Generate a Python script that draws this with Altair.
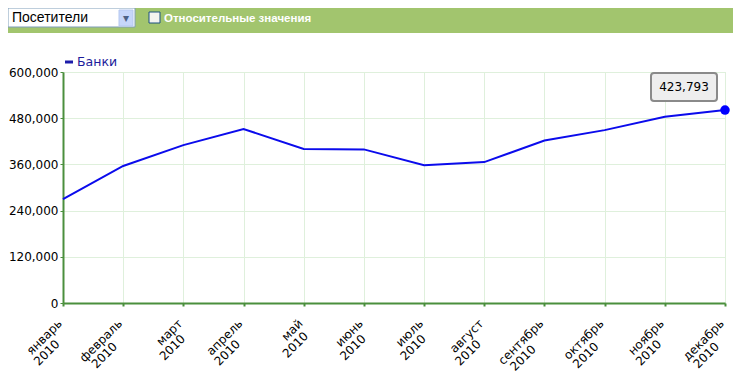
import altair as alt
import pandas as pd

# ---- data ----
months = ["январь", "февраль", "март", "апрель", "май", "июнь",
          "июль", "август", "сентябрь", "октябрь", "ноябрь", "декабрь"]
visitors = [270000, 356000, 410000, 452000, 400000, 399000,
            358000, 366000, 422000, 449000, 484000, 501000]
year_label = "2010"
series_name = "Банки"
y_ticks = [0, 120000, 240000, 360000, 480000, 600000]
tooltip_value = "423,793"
select_label = "Посетители"
checkbox_label = "Относительные значения"

df = pd.DataFrame({"idx": list(range(len(months))), "month": months, "value": visitors})
one = pd.DataFrame({"a": [0]})

W, H = 662, 231
YMAX = 600000
GREEN = "#4b8f3d"
BLUE = "#0b0bec"
GRID = "#dff0dc"

months_js = "[" + ",".join("'" + m + "'" for m in months) + "]"

x_scale = alt.Scale(domain=[0, len(months) - 1], nice=False, zero=False)
y_scale = alt.Scale(domain=[0, YMAX], nice=False)

x_enc = alt.X("idx:Q", scale=x_scale,
              axis=alt.Axis(title=None, values=list(range(len(months))),
                            labelExpr=months_js + "[datum.value]",
                            labelAngle=315, labelAlign="right", labelBaseline="middle",
                            labelFont="DejaVu Sans", labelFontSize=12,
                            labelColor="#000000", labelOffset=-3.5,
                            labelOverlap=False, labelFlush=False, labelBound=False,
                            domainColor=GREEN, domainWidth=2,
                            tickColor=GREEN, tickWidth=2, tickSize=3,
                            gridColor=GRID, labelPadding=15))
y_enc = alt.Y("value:Q", scale=y_scale,
              axis=alt.Axis(title=None, values=y_ticks, format=",d",
                            labelFont="DejaVu Sans", labelFontSize=12,
                            labelColor="#000000",
                            domainColor=GREEN, domainWidth=2,
                            tickColor=GREEN, tickWidth=1, tickSize=3,
                            gridColor=GRID, labelPadding=2))

line = alt.Chart(df).mark_line(color=BLUE, strokeWidth=2).encode(x=x_enc, y=y_enc)
last_pt = alt.Chart(df).transform_filter(
    alt.datum.idx == len(months) - 1
).mark_circle(size=90, color="#0000ff", opacity=1).encode(x=x_enc, y=y_enc)

# second line of the x tick labels ("2010"), centred under each month name
px_x = W / (len(months) - 1)
px_y = H / YMAX
years = alt.Chart(df).transform_calculate(
    w="length(datum.month) * 7.4",
    yx="datum.idx + (-0.5 - 0.354 * datum.w) / %f" % px_x,
    yy="-(34 + 0.354 * datum.w) / %f" % px_y,
).mark_text(text=year_label, angle=315, align="center", baseline="middle",
            font="DejaVu Sans", fontSize=12, color="black").encode(
    x=alt.X("yx:Q", scale=x_scale), y=alt.Y("yy:Q", scale=y_scale))

# header bar (UI decoration)
bar = alt.Chart(one).mark_rect(color="#a2c56e").encode(
    x=alt.value(-55), x2=alt.value(680), y=alt.value(-64), y2=alt.value(-39))
dropdown = alt.Chart(one).mark_rect(fill="white", stroke="#7f9db9", strokeWidth=1).encode(
    x=alt.value(-55), x2=alt.value(72), y=alt.value(-64), y2=alt.value(-45))
dd_btn = alt.Chart(one).mark_rect(fill="#c6d6fa", stroke="#b5c8f0", strokeWidth=1).encode(
    x=alt.value(56), x2=alt.value(70), y=alt.value(-62), y2=alt.value(-46))
dd_arrow = alt.Chart(one).mark_text(text="▾", color="#4d6185", fontSize=12,
                                    font="DejaVu Sans", align="center", baseline="middle").encode(
    x=alt.value(63), y=alt.value(-54))
dd_text = alt.Chart(one).mark_text(text=select_label, color="black", fontSize=14,
                                   font="Liberation Sans", align="left", baseline="middle").encode(
    x=alt.value(-51), y=alt.value(-54))
chk = alt.Chart(one).mark_rect(fill="#f4f4f0", stroke="#1c5180", strokeWidth=1).encode(
    x=alt.value(86), x2=alt.value(97), y=alt.value(-60), y2=alt.value(-49))
chk_text = alt.Chart(one).mark_text(text=checkbox_label, color="white", fontSize=11.5,
                                    fontWeight="bold", font="Liberation Sans",
                                    align="left", baseline="middle").encode(
    x=alt.value(101), y=alt.value(-53))

# legend
leg_line = alt.Chart(one).mark_rule(color="#1c1caa", strokeWidth=3).encode(
    x=alt.value(2), x2=alt.value(10), y=alt.value(-10))
leg_text = alt.Chart(one).mark_text(text=series_name, color="#1c1c9c", fontSize=12.5,
                                    font="DejaVu Sans", align="left", baseline="middle").encode(
    x=alt.value(14), y=alt.value(-10))

# tooltip box
tip_box = alt.Chart(one).mark_rect(fill="#eeeeee", stroke="#8a8a8a", strokeWidth=2,
                                   cornerRadius=3).encode(
    x=alt.value(588), x2=alt.value(654), y=alt.value(1), y2=alt.value(29))
tip_text = alt.Chart(one).mark_text(text=tooltip_value, color="black", fontSize=12,
                                    font="DejaVu Sans", align="center", baseline="middle").encode(
    x=alt.value(621), y=alt.value(15))

chart = alt.layer(
    bar, dropdown, dd_btn, dd_arrow, dd_text, chk, chk_text,
    line, last_pt, years, leg_line, leg_text, tip_box, tip_text
).properties(
    width=W, height=H,
    padding={"left": 55, "top": 64, "right": 8, "bottom": 70},
    autosize=alt.AutoSizeParams(type="none"),
).configure_view(stroke=None).configure(background="white")

chart.save("out.html", embed_options={"renderer": "svg", "actions": False})
